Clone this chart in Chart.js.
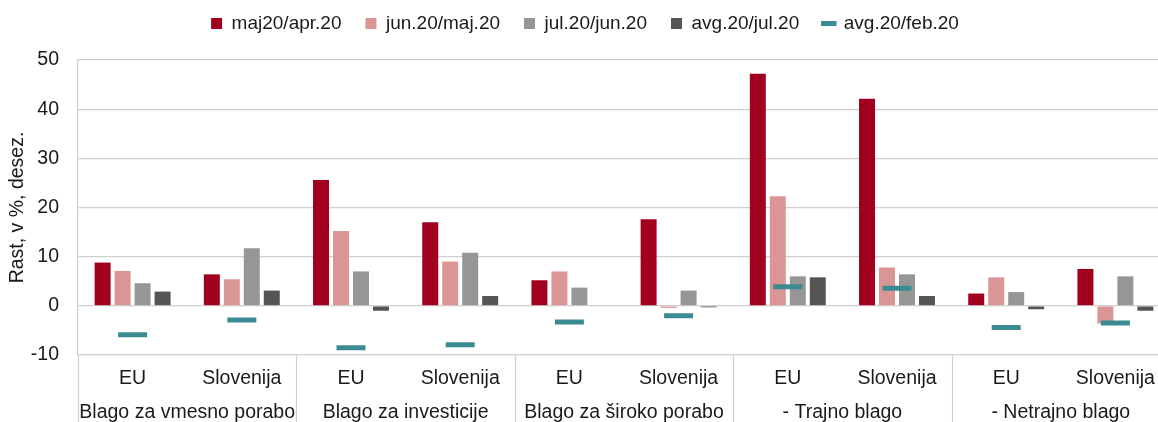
<!DOCTYPE html>
<html>
<head>
<meta charset="utf-8">
<script src="https://cdn.jsdelivr.net/npm/chart.js@4.4.1/dist/chart.umd.min.js"></script>
<style>
  html, body { margin: 0; padding: 0; background: #ffffff; overflow: hidden; width: 1158px; height: 422px; }
  #wrap { position: relative; width: 1170px; height: 422px; }
  canvas { display: block; }
</style>
</head>
<body>
<div id="wrap"><canvas id="c" width="1170" height="422"></canvas></div>
<script>
// ---- data ----
const categories = ['EU', 'Slovenija', 'EU', 'Slovenija', 'EU', 'Slovenija', 'EU', 'Slovenija', 'EU', 'Slovenija'];
const groups = ['Blago za vmesno porabo', 'Blago za investicije', 'Blago za široko porabo', '- Trajno blago', '- Netrajno blago'];
const seriesNames = ['maj20/apr.20', 'jun.20/maj.20', 'jul.20/jun.20', 'avg.20/jul.20', 'avg.20/feb.20'];
const majApr = [8.8, 6.4, 25.6, 17.0, 5.2, 17.6, 47.2, 42.1, 2.5, 7.5];
const junMaj = [7.1, 5.4, 15.2, 9.0, 7.0, -0.4, 22.3, 7.8, 5.8, -3.6];
const julJun = [4.6, 11.7, 7.0, 10.8, 3.7, 3.1, 6.0, 6.4, 2.8, 6.0];
const avgJul = [2.9, 3.1, -1.0, 2.0, 0.0, -0.3, 5.8, 2.0, -0.7, -1.0];
const avgFeb = [-5.9, -2.9, -8.5, -7.9, -3.3, -2.0, 3.9, 3.6, -4.4, -3.5];
const yTicks = { min: -10, max: 50, step: 10 };

const FONT = "'Liberation Sans', Arial, sans-serif";
const TEXT = '#1a1a1a';
const GRID = '#d0d0d0';

const legendFit = {
  id: 'legendFit',
  beforeInit(chart) {
    const lg = chart.legend;
    if (!lg) return;
    const orig = lg.fit;
    lg.fit = function () { orig.call(this); this.height = 70; };
  }
};

const separators = {
  id: 'separators',
  afterDraw(chart) {
    const x = chart.scales.x;
    const ctx = chart.ctx;
    const top = chart.chartArea.bottom;
    const bottom = chart.height;
    ctx.save();
    ctx.strokeStyle = GRID;
    ctx.lineWidth = 1.2;
    for (let g = 0; g <= groups.length; g++) {
      const px = Math.round(x.getPixelForValue(g * 2 - 0.5)) + 0.5;
      ctx.beginPath();
      ctx.moveTo(px, top);
      ctx.lineTo(px, bottom);
      ctx.stroke();
    }
    ctx.restore();
  }
};

const barCommon = { categoryPercentage: 0.732, barPercentage: 0.8, borderWidth: 0, pointStyle: 'rect', order: 2 };

new Chart(document.getElementById('c'), {
  type: 'bar',
  data: {
    labels: categories,
    datasets: [
      Object.assign({ label: seriesNames[0], data: majApr, backgroundColor: '#a1001e' }, barCommon),
      Object.assign({ label: seriesNames[1], data: junMaj, backgroundColor: '#da9694' }, barCommon),
      Object.assign({ label: seriesNames[2], data: julJun, backgroundColor: '#969696' }, barCommon),
      Object.assign({ label: seriesNames[3], data: avgJul, backgroundColor: '#555555' }, barCommon),
      {
        type: 'line', label: seriesNames[4], data: avgFeb,
        showLine: false, borderColor: '#3b8b93', backgroundColor: '#3b8b93', borderWidth: 3,
        pointStyle: 'line', pointRadius: 14.5, pointHoverRadius: 14.5, pointBorderWidth: 5, pointHoverBorderWidth: 5,
        order: 1
      }
    ]
  },
  options: {
    responsive: false,
    animation: false,
    events: [],
    layout: { autoPadding: false, padding: { top: -10, left: 0, right: 0, bottom: 0 } },
    plugins: {
      legend: {
        position: 'top',
        labels: {
          usePointStyle: true,
          boxWidth: 11, boxHeight: 11,
          padding: 24,
          color: TEXT,
          font: { family: FONT, size: 19 },
          sort: (a, b) => a.datasetIndex - b.datasetIndex
        }
      },
      tooltip: { enabled: false }
    },
    scales: {
      x: {
        type: 'category',
        weight: 0,
        offset: true,
        grid: { display: false, drawTicks: false },
        border: { display: false },
        ticks: { color: TEXT, font: { family: FONT, size: 19.5 }, padding: 12, autoSkip: false, maxRotation: 0 },
        afterFit(s) { s.height = 34; }
      },
      x2: {
        type: 'category',
        position: 'bottom',
        labels: groups,
        weight: 1,
        offset: true,
        grid: { display: false, drawTicks: false },
        border: { display: false },
        ticks: { color: TEXT, font: { family: FONT, size: 19.5 }, padding: 12, autoSkip: false, maxRotation: 0 },
        afterFit(s) { s.height = 33; }
      },
      y: {
        min: yTicks.min, max: yTicks.max,
        ticks: { stepSize: yTicks.step, color: TEXT, font: { family: FONT, size: 19.5 }, padding: 19 },
        grid: { color: GRID, lineWidth: 1.3, drawTicks: false },
        border: { display: true, color: GRID, width: 1.3 },
        title: { display: true, text: 'Rast, v %, desez.', color: TEXT, font: { family: FONT, size: 19.5 }, padding: { top: 6, bottom: 4 } },
        afterFit(s) { s.width = 78; }
      }
    }
  },
  plugins: [legendFit, separators]
});
</script>
</body>
</html>
